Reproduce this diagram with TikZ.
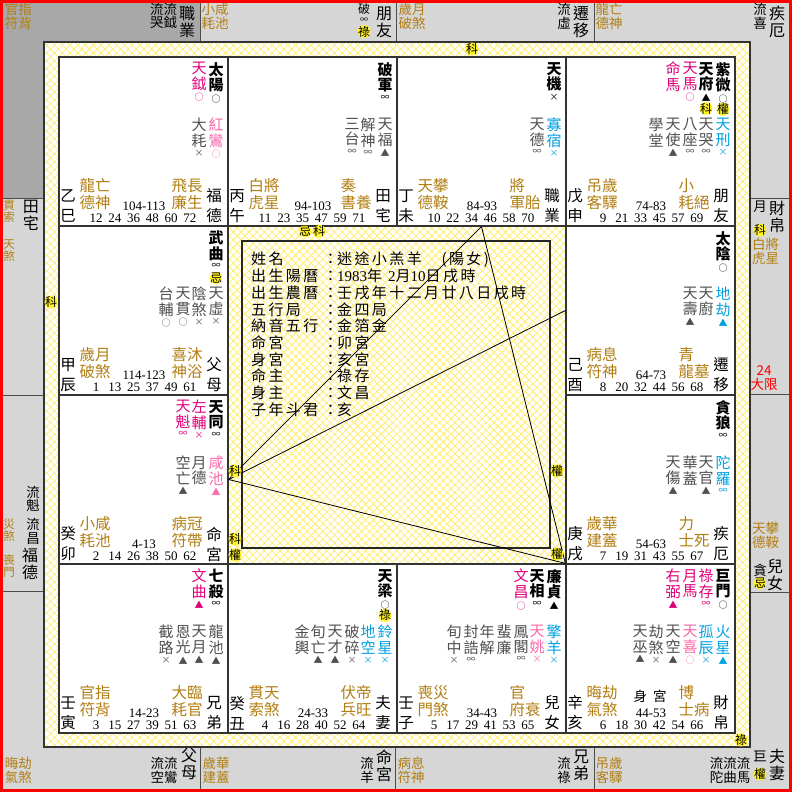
\documentclass[tikz,border=0pt]{standalone}
\usepackage{fontspec}
\setmainfont{Noto Sans CJK TC}
\newfontfamily\numfont{Liberation Serif}
\newfontfamily\infofont{Noto Sans CJK TC}[LetterSpace=16]
\usetikzlibrary{patterns.meta}
\definecolor{gold}{RGB}{178,126,18}
\definecolor{mag}{RGB}{224,0,122}
\definecolor{pinkst}{RGB}{250,105,170}
\definecolor{cyanst}{RGB}{0,160,225}
\definecolor{minor}{RGB}{80,80,80}
\definecolor{hl}{RGB}{255,242,40}
\definecolor{bandline}{RGB}{255,238,120}
\definecolor{ringgray}{RGB}{214,214,214}
\definecolor{ringdark}{RGB}{168,168,168}
\newcommand{\ages}[6]{\makebox[18.8pt]{#1}\makebox[18.8pt]{#2}\makebox[18.8pt]{#3}\makebox[18.8pt]{#4}\makebox[18.8pt]{#5}\makebox[18.8pt]{#6}}
\newcommand{\fld}[2]{\makebox[73pt][l]{#1}\makebox[13pt][c]{：}#2}
\newcommand{\palbase}[7]{%
\node[stembr] at (9,149) (#1stem) {#2};
\node[goldblk] at (36,137) (#1gl) {#3};
\node[numrow] at (85,149) (#1rng) {#4};
\node[numrow] at (84,161) (#1age) {#5};
\node[goldblk] at (128,137) (#1gr) {#6};
\node[stembr] at (155,149) (#1name) {#7};
}
\tikzset{
mainstar/.style={font=\fontsize{15}{15.5}\selectfont\bfseries, align=center, inner sep=0pt, anchor=north},
auxstar/.style={font=\fontsize{15}{15.5}\selectfont, text=mag, align=center, inner sep=0pt, anchor=north},
minstar/.style={font=\fontsize{15}{15.5}\selectfont, text=minor, align=center, inner sep=0pt, anchor=north},
minp/.style={minstar, text=pinkst},
minc/.style={minstar, text=cyanst},
mk/.style={font=\fontsize{9}{9}\selectfont, inner sep=0pt},
mkm/.style={mk, text=mag},
mkp/.style={mk, text=pinkst},
mkc/.style={mk, text=cyanst},
mkg/.style={mk, text=minor},
hua/.style={font=\fontsize{12}{12}\selectfont, fill=hl, circle, inner sep=-1.2pt},
huab/.style={hua, yshift=-8pt},
stembr/.style={font=\fontsize{15.5}{20}\selectfont, align=center, inner sep=0pt},
goldblk/.style={font=\fontsize{15.5}{17}\selectfont, text=gold, align=left, inner sep=0pt},
numrow/.style={font=\numfont\fontsize{13}{13}\selectfont, inner sep=0pt},
palace/.style={draw=black!80, line width=1.3pt, fill=white, minimum width=169pt, minimum height=169pt, inner sep=0pt},
ringline/.style={draw=black!70, line width=1pt},
ringgold/.style={font=\fontsize{13.5}{13.8}\selectfont, text=gold, align=left, inner sep=0pt},
ringsmall/.style={font=\fontsize{11.5}{12}\selectfont, text=gold, align=center, inner sep=0pt},
ringtxt/.style={font=\fontsize{13.5}{13.8}\selectfont, align=left, inner sep=0pt},
ringname/.style={font=\fontsize{16}{17}\selectfont, align=center, inner sep=0pt},
infotxt/.style={font=\infofont\fontsize{15}{16.7}\selectfont, align=left, inner sep=0pt, anchor=north west},
tri/.style={black, line width=0.8pt},
}
\begin{document}
\begin{tikzpicture}[x=1pt, y=-1pt, label distance=2.5pt]
\useasboundingbox (0,0) rectangle (792,792);
% outer ring
\fill[ringgray] (3,3) rectangle (789,789);
\fill[ringdark] (3,3) -- (200,3) -- (200,42) -- (44,42) -- (44,198) -- (3,198) -- cycle;
\draw[ringline] (200,3) -- (200,42);
\draw[ringline] (396,3) -- (396,42);
\draw[ringline] (594,3) -- (594,42);
\draw[ringline] (3,198) -- (44,198);
\draw[ringline] (3,395) -- (44,395);
\draw[ringline] (3,591) -- (44,591);
\draw[ringline] (750,198) -- (789,198);
\draw[ringline] (750,394) -- (789,394);
\draw[ringline] (750,592) -- (789,592);
\draw[ringline] (200,747) -- (200,789);
\draw[ringline] (395,747) -- (395,789);
\draw[ringline] (594,747) -- (594,789);
% yellow band and centre
\fill[white] (44,42) rectangle (750,747);
\fill[pattern={Lines[angle=45,distance=5.5pt,line width=0.9pt]}, pattern color=bandline] (44,42) rectangle (750,747);
\fill[pattern={Lines[angle=-45,distance=5.5pt,line width=0.9pt]}, pattern color=bandline] (44,42) rectangle (750,747);
\draw[black!80, line width=1.2pt] (44,42) rectangle (750,747);
% palaces
\node[palace] at (143.5,141.5) (si) {};
\node[palace] at (312.5,141.5) (wu) {};
\node[palace] at (481.5,141.5) (wei) {};
\node[palace] at (650.5,141.5) (shen) {};
\node[palace] at (143.5,310.5) (chen) {};
\node[palace] at (650.5,310.5) (you) {};
\node[palace] at (143.5,479.5) (mao) {};
\node[palace] at (650.5,479.5) (xu) {};
\node[palace] at (143.5,648.5) (yin) {};
\node[palace] at (312.5,648.5) (chou) {};
\node[palace] at (481.5,648.5) (zi) {};
\node[palace] at (650.5,648.5) (hai) {};
\node[draw=black!85, line width=1.2pt, minimum width=308pt, minimum height=307pt, inner sep=0pt] at (396,394.5) (info) {};
% san fang si zheng
\draw[tri] (mao.east) -- (wei.south);
\draw[tri] (wei.south) -- (hai.north west);
\draw[tri] (mao.east) -- (hai.north west);
\draw[tri] (mao.east) -- (you.west);
\node[infotxt] at (251,252) (infotext) {%
\fld{姓名}{迷途小羔羊　(陽女)}\\
\fld{出生陽曆}{{\numfont 1983}年\hspace{6pt}{\numfont 2}月{\numfont 10}日戌時}\\
\fld{出生農曆}{壬戌年十二月廿八日戌時}\\
\fld{五行局}{金四局}\\
\fld{納音五行}{金箔金}\\
\fld{命宮}{卯宮}\\
\fld{身宮}{亥宮}\\
\fld{命主}{祿存}\\
\fld{身主}{文昌}\\
\fld{子年斗君}{亥}};
% si
\begin{scope}[shift={(59,57)}]
\node[mainstar] at (157,5) (si1) [label={[mk]below:○}] {太\\陽};
\node[auxstar] at (140,5) (si2) [label={[mkm]below:○}] {天\\鉞};
\node[minp] at (157,61) (si3) [label={[mkp]below:○}] {紅\\鸞};
\node[minstar] at (140,61) (si4) [label={[mkg]below:×}] {大\\耗};
\palbase{si}{乙\\巳}{龍亡\\德神}{104-113}{\ages{12}{24}{36}{48}{60}{72}}{飛長\\廉生}{福\\德}
\end{scope}
% wu
\begin{scope}[shift={(228,57)}]
\node[mainstar] at (157,5) (wu1) [label={[mk]below:∞}] {破\\軍};
\node[minstar] at (157,61) (wu2) [label={[mkg]below:▲}] {天\\福};
\node[minstar] at (140,61) (wu3) [label={[mkg]below:∞}] {解\\神};
\node[minstar] at (124,61) (wu4) [label={[mkg]below:∞}] {三\\台};
\palbase{wu}{丙\\午}{白將\\虎星}{94-103}{\ages{11}{23}{35}{47}{59}{71}}{奏\\書養}{田\\宅}
\end{scope}
% wei
\begin{scope}[shift={(397,57)}]
\node[mainstar] at (157,5) (wei1) [label={[mk]below:×}] {天\\機};
\node[minc] at (157,61) (wei2) [label={[mkc]below:×}] {寡\\宿};
\node[minstar] at (140,61) (wei3) [label={[mkg]below:∞}] {天\\德};
\palbase{wei}{丁\\未}{天攀\\德鞍}{84-93}{\ages{10}{22}{34}{46}{58}{70}}{將\\軍胎}{職\\業}
\end{scope}
% shen
\begin{scope}[shift={(566,57)}]
\node[mainstar] at (157,5) (shen1) [label={[mk]below:○}, label={[huab]below:權}] {紫\\微};
\node[mainstar] at (140,5) (shen2) [label={[mk]below:▲}, label={[huab]below:科}] {天\\府};
\node[auxstar] at (124,5) (shen3) [label={[mkm]below:○}] {天\\馬};
\node[auxstar] at (107,5) (shen4) {命\\馬};
\node[minc] at (157,61) (shen5) [label={[mkc]below:×}] {天\\刑};
\node[minstar] at (140,61) (shen6) [label={[mkg]below:∞}] {天\\哭};
\node[minstar] at (124,61) (shen7) [label={[mkg]below:∞}] {八\\座};
\node[minstar] at (107,61) (shen8) [label={[mkg]below:▲}] {天\\使};
\node[minstar] at (90,61) (shen9) {學\\堂};
\palbase{shen}{戊\\申}{吊歲\\客驛}{74-83}{\ages{9}{21}{33}{45}{57}{69}}{小\\耗絕}{朋\\友}
\end{scope}
% you
\begin{scope}[shift={(566,226)}]
\node[mainstar] at (157,5) (you1) [label={[mk]below:○}] {太\\陰};
\node[minc] at (157,61) (you2) [label={[mkc]below:▲}] {地\\劫};
\node[minstar] at (140,61) (you3) {天\\廚};
\node[minstar] at (124,61) (you4) [label={[mkg]below:▲}] {天\\壽};
\palbase{you}{己\\酉}{病息\\符神}{64-73}{\ages{8}{20}{32}{44}{56}{68}}{青\\龍墓}{遷\\移}
\end{scope}
% xu
\begin{scope}[shift={(566,395)}]
\node[mainstar] at (157,5) (xu1) [label={[mk]below:∞}] {貪\\狼};
\node[minc] at (157,61) (xu2) [label={[mkc]below:∞}] {陀\\羅};
\node[minstar] at (140,61) (xu3) [label={[mkg]below:▲}] {天\\官};
\node[minstar] at (124,61) (xu4) {華\\蓋};
\node[minstar] at (107,61) (xu5) [label={[mkg]below:▲}] {天\\傷};
\palbase{xu}{庚\\戌}{歲華\\建蓋}{54-63}{\ages{7}{19}{31}{43}{55}{67}}{力\\士死}{疾\\厄}
\end{scope}
% hai
\begin{scope}[shift={(566,564)}]
\node[mainstar] at (157,5) (hai1) [label={[mk]below:○}] {巨\\門};
\node[auxstar] at (140,5) (hai2) [label={[mkm]below:∞}] {祿\\存};
\node[auxstar] at (124,5) (hai3) {月\\馬};
\node[auxstar] at (107,5) (hai4) [label={[mkm]below:▲}] {右\\弼};
\node[minc] at (157,61) (hai5) [label={[mkc]below:▲}] {火\\星};
\node[minc] at (140,61) (hai6) [label={[mkc]below:×}] {孤\\辰};
\node[minp] at (124,61) (hai7) [label={[mkp]below:○}] {天\\喜};
\node[minstar] at (107,61) (hai8) [label={[mkg]below:▲}] {天\\空};
\node[minstar] at (90,61) (hai9) [label={[mkg]below:×}] {劫\\煞};
\node[minstar] at (74,61) (hai10) [label={[mkg]below:▲}] {天\\巫};
\node[stembr, font=\fontsize{13.5}{13.5}\selectfont] at (84,132) (haishen) {身\hspace{6pt}宮};
\palbase{hai}{辛\\亥}{晦劫\\氣煞}{44-53}{\ages{6}{18}{30}{42}{54}{66}}{博\\士病}{財\\帛}
\end{scope}
% zi
\begin{scope}[shift={(397,564)}]
\node[mainstar] at (157,5) (zi1) [label={[mk]below:▲}] {廉\\貞};
\node[mainstar] at (140,5) (zi2) [label={[mk]below:∞}] {天\\相};
\node[auxstar] at (124,5) (zi3) [label={[mkm]below:○}] {文\\昌};
\node[minc] at (157,61) (zi4) [label={[mkc]below:×}] {擎\\羊};
\node[minp] at (140,61) (zi5) [label={[mkp]below:×}] {天\\姚};
\node[minstar] at (124,61) (zi6) [label={[mkg]below:∞}] {鳳\\閣};
\node[minstar] at (107,61) (zi7) {蜚\\廉};
\node[minstar] at (90,61) (zi8) {年\\解};
\node[minstar] at (74,61) (zi9) [label={[mkg]below:∞}] {封\\誥};
\node[minstar] at (57,61) (zi10) [label={[mkg]below:×}] {旬\\中};
\palbase{zi}{壬\\子}{喪災\\門煞}{34-43}{\ages{5}{17}{29}{41}{53}{65}}{官\\府衰}{兒\\女}
\end{scope}
% chou
\begin{scope}[shift={(228,564)}]
\node[mainstar] at (157,5) (chou1) [label={[mk]below:○}, label={[huab]below:祿}] {天\\梁};
\node[minc] at (157,61) (chou2) [label={[mkc]below:×}] {鈴\\星};
\node[minc] at (140,61) (chou3) [label={[mkc]below:×}] {地\\空};
\node[minstar] at (124,61) (chou4) [label={[mkg]below:×}] {破\\碎};
\node[minstar] at (107,61) (chou5) [label={[mkg]below:▲}] {天\\才};
\node[minstar] at (90,61) (chou6) [label={[mkg]below:▲}] {旬\\亡};
\node[minstar] at (74,61) (chou7) {金\\輿};
\palbase{chou}{癸\\丑}{貫天\\索煞}{24-33}{\ages{4}{16}{28}{40}{52}{64}}{伏帝\\兵旺}{夫\\妻}
\end{scope}
% yin
\begin{scope}[shift={(59,564)}]
\node[mainstar] at (157,5) (yin1) [label={[mk]below:∞}] {七\\殺};
\node[auxstar] at (140,5) (yin2) [label={[mkm]below:▲}] {文\\曲};
\node[minstar] at (157,61) (yin3) [label={[mkg]below:▲}] {龍\\池};
\node[minstar] at (140,61) (yin4) [label={[mkg]below:▲}] {天\\月};
\node[minstar] at (124,61) (yin5) [label={[mkg]below:▲}] {恩\\光};
\node[minstar] at (107,61) (yin6) [label={[mkg]below:×}] {截\\路};
\palbase{yin}{壬\\寅}{官指\\符背}{14-23}{\ages{3}{15}{27}{39}{51}{63}}{大臨\\耗官}{兄\\弟}
\end{scope}
% mao
\begin{scope}[shift={(59,395)}]
\node[mainstar] at (157,5) (mao1) [label={[mk]below:∞}] {天\\同};
\node[auxstar] at (140,5) (mao2) [label={[mkm]below:×}] {左\\輔};
\node[auxstar] at (124,5) (mao3) [label={[mkm]below:∞}] {天\\魁};
\node[minp] at (157,61) (mao4) [label={[mkp]below:▲}] {咸\\池};
\node[minstar] at (140,61) (mao5) {月\\德};
\node[minstar] at (124,61) (mao6) [label={[mkg]below:▲}] {空\\亡};
\palbase{mao}{癸\\卯}{小咸\\耗池}{4-13}{\ages{2}{14}{26}{38}{50}{62}}{病冠\\符帶}{命\\宮}
\end{scope}
% chen
\begin{scope}[shift={(59,226)}]
\node[mainstar] at (157,5) (chen1) [label={[mk]below:∞}, label={[huab]below:忌}] {武\\曲};
\node[minstar] at (157,61) (chen2) [label={[mkg]below:×}] {天\\虛};
\node[minstar] at (140,61) (chen3) [label={[mkg]below:×}] {陰\\煞};
\node[minstar] at (124,61) (chen4) [label={[mkg]below:○}] {天\\貫};
\node[minstar] at (107,61) (chen5) [label={[mkg]below:○}] {台\\輔};
\palbase{chen}{甲\\辰}{歲月\\破煞}{114-123}{\ages{1}{13}{25}{37}{49}{61}}{喜沐\\神浴}{父\\母}
\end{scope}
% si hua in band and centre
\node[hua] at (472,49) (hk1) {科};
\node[hua] at (51,302) (hk2) {科};
\node[hua] at (305,231) (hk3) {忌};
\node[hua] at (319,231) (hk4) {科};
\node[hua] at (235,471) (hk5) {科};
\node[hua] at (235,539) (hk6) {科};
\node[hua] at (235,555) (hk7) {權};
\node[hua] at (557,471) (hk8) {權};
\node[hua] at (557,554) (hk9) {權};
\node[hua] at (741,740) (hk10) {祿};
% ring texts, top
\node[ringgold] at (18.5,16.5) (rtl1) {官指\\符背};
\node[ringtxt] at (163.5,16) (rtl2) {流流\\哭鉞};
\node[ringname] at (187,22) (rtl3) {職\\業};
\node[ringgold] at (215,16.5) (rt1) {小咸\\耗池};
\node[ringtxt, font=\fontsize{12}{12}\selectfont] at (364,9) (rt2) {破};
\node[mk, font=\fontsize{8}{8}\selectfont] at (364,20) (rt3) {∞};
\node[hua] at (364,31.5) (rt4) {祿};
\node[ringname] at (384,22) (rt5) {朋\\友};
\node[ringgold] at (412,16) (rt6) {歲月\\破煞};
\node[ringtxt] at (564,16.5) (rt7) {流\\虛};
\node[ringname] at (581,22) (rt8) {遷\\移};
\node[ringgold] at (609,16) (rtr1) {龍亡\\德神};
\node[ringtxt] at (760,16.5) (rtr2) {流\\喜};
\node[ringname] at (777,22) (rtr3) {疾\\厄};
% ring texts, right
\node[ringtxt] at (760,206.5) (rr1) {月};
\node[hua] at (760,230) (rr2) {科};
\node[ringname] at (777,217) (rr3) {財\\帛};
\node[ringgold] at (765.5,251.5) (rr4) {白將\\虎星};
\node[ringtxt, text=red, align=center] at (764,378) (rr5) {24\\大限};
\node[ringgold] at (765.5,535) (rr6) {天攀\\德鞍};
\node[ringtxt] at (760,570) (rr7) {貪};
\node[hua] at (760,583) (rr8) {忌};
\node[ringname] at (775,575) (rr9) {兒\\女};
% ring texts, bottom
\node[ringgold] at (609,770) (rbr1) {吊歲\\客驛};
\node[ringtxt] at (730,770) (rbr2) {流流流\\陀曲馬};
\node[ringtxt] at (760,756.5) (rbr3) {巨};
\node[hua] at (760,774) (rbr4) {權};
\node[ringname] at (777,765) (rbr5) {夫\\妻};
\node[ringgold] at (411,770) (rb1) {病息\\符神};
\node[ringtxt] at (564,770) (rb2) {流\\祿};
\node[ringname] at (581,765.5) (rb3) {兄\\弟};
\node[ringgold] at (216,770) (rb4) {歲華\\建蓋};
\node[ringtxt] at (367,770) (rb5) {流\\羊};
\node[ringname] at (384,765.5) (rb6) {命\\宮};
\node[ringgold] at (18.5,770) (rbl1) {晦劫\\氣煞};
\node[ringtxt] at (164,770) (rbl2) {流流\\空鸞};
\node[ringname] at (189,764) (rbl3) {父\\母};
% ring texts, left
\node[ringsmall] at (9,211) (rl1) {貫\\索};
\node[ringname] at (31,215) (rl2) {田\\宅};
\node[ringsmall] at (9,251) (rl3) {天\\煞};
\node[ringtxt] at (33,499) (rl4) {流\\魁};
\node[ringtxt] at (33,531) (rl5) {流\\昌};
\node[ringsmall] at (9,530) (rl6) {災\\煞};
\node[ringname] at (30,564) (rl7) {福\\德};
\node[ringsmall] at (9,566) (rl8) {喪\\門};
\draw[red, line width=3pt] (1.5,1.5) rectangle (790.5,790.5);
\end{tikzpicture}
\end{document}
